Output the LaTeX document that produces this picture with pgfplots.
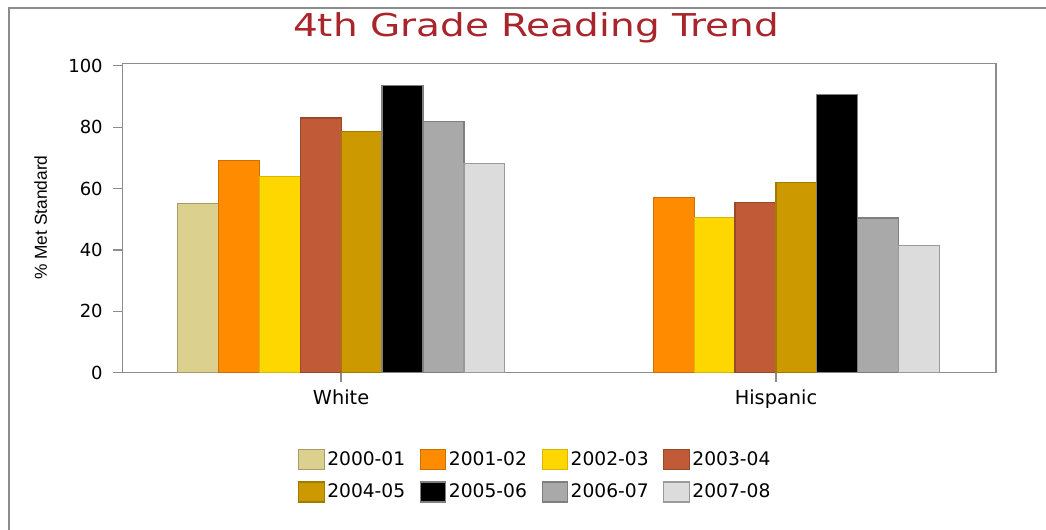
\documentclass[border=0pt]{standalone}
\usepackage{pgfplots}
\pgfplotsset{compat=1.18}
\usepackage{fontspec}
\setmainfont{DejaVu Sans}
\newfontfamily\arialfont{Liberation Sans}
\definecolor{c1}{HTML}{DCD08E}
\definecolor{c2}{HTML}{FF8C00}
\definecolor{c3}{HTML}{FFD700}
\definecolor{c4}{HTML}{C05A37}
\definecolor{c5}{HTML}{CC9900}
\definecolor{c6}{HTML}{000000}
\definecolor{c7}{HTML}{A9A9A9}
\definecolor{c8}{HTML}{DCDCDC}
\definecolor{titlered}{HTML}{A8262B}
\definecolor{axgray}{HTML}{8C8C8C}
\begin{document}
\begin{tikzpicture}
\useasboundingbox (0,0) rectangle (784.5pt,397.5pt);
\draw[line width=1.5pt, axgray] (6.75pt,-5pt) -- (6.75pt,391.5pt) -- (790pt,391.5pt);
\begin{axis}[
  at={(91.725pt,117.975pt)}, anchor=south west,
  scale only axis, width=655.3pt, height=232pt,
  ymin=0, ymax=100.8, xmin=-0.503, xmax=1.506,
  ytick={0,20,40,60,80,100},
  xtick={0,1}, xticklabels={White,Hispanic},
  tick align=outside, tick pos=left,
  major tick length=7pt,
  every tick/.style={axgray, line width=0.9pt},
  axis line style={axgray, line width=1.2pt},
  /pgf/number format/assume math mode=true,
  yticklabel style={font=\fontsize{13.5pt}{16pt}\selectfont, inner xsep=7.5pt, inner ysep=0pt},
  xticklabel style={font=\fontsize{14.5pt}{17pt}\selectfont, inner ysep=5.5pt, inner xsep=0pt},
  ylabel={\arialfont\% Met Standard},
  every axis y label/.style={at={(axis description cs:-0.0934,0.5016)}, rotate=90, anchor=center, font=\fontsize{13pt}{16pt}\selectfont},
  title={\scalebox{1.3}[1.05]{4th Grade Reading Trend}},
  title style={font=\fontsize{22.5pt}{27pt}\selectfont, color=titlered, at={(axis description cs:0.4735,1.0614)}, anchor=base, inner sep=0pt},
  ybar=0pt, bar width=0.0942,
  every axis plot/.append style={line width=0.8pt},
  legend columns=4,
  legend style={at={(axis description cs:0.201,-0.2466)}, anchor=north west, draw=none, fill=none, inner sep=0pt,
    font=\fontsize{14pt}{17pt}\selectfont, row sep=8.25pt,
    /tikz/every even column/.append style={column sep=9pt}},
  legend image code/.code={\draw[#1, line width=0.8pt] (0pt,-7.5pt) rectangle (19pt,7.5pt);},
]
\addplot[fill=c1, draw=c1!75!black] coordinates {(0,55)};
\addplot[fill=c2, draw=c2!80!black] coordinates {(0,69) (1,57)};
\addplot[fill=c3, draw=c3!85!black] coordinates {(0,64) (1,50.5)};
\addplot[fill=c4, draw=c4!80!black] coordinates {(0,83) (1,55.6)};
\addplot[fill=c5, draw=c5!80!black] coordinates {(0,78.5) (1,62)};
\addplot[fill=c6, draw=c6!50!white] coordinates {(0,93.6) (1,90.8)};
\addplot[fill=c7, draw=c7!75!black] coordinates {(0,82) (1,50.4)};
\addplot[fill=c8, draw=c8!70!black] coordinates {(0,68.2) (1,41.3)};
\legend{2000-01,2001-02,2002-03,2003-04,2004-05,2005-06,2006-07,2007-08}
\end{axis}
\end{tikzpicture}
\end{document}
